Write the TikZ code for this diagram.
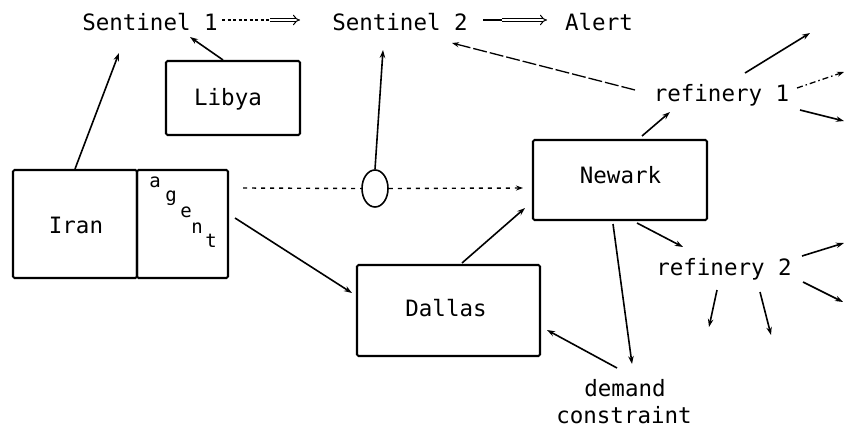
\documentclass[tikz,border=0pt]{standalone}
\usepackage{fontspec}
\setmonofont{DejaVu Sans Mono}
\usetikzlibrary{arrows.meta,shapes.geometric}

\begin{document}
\begin{tikzpicture}[x=1pt,y=-1pt,
  lbl/.style={font=\ttfamily\fontsize{22.5}{26}\selectfont, inner sep=0pt, anchor=base},
  small/.style={font=\ttfamily\fontsize{19}{22}\selectfont, inner sep=0pt, anchor=base},
  boxnode/.style={draw, line width=2.1pt, rounded corners=1.5pt, inner sep=0pt},
  arr/.style={line width=1.6pt, -{Stealth[length=8pt,width=5.5pt]}},
  dotline/.style={line width=1.4pt, dash pattern=on 3pt off 2.5pt},
  dbl/.style={double, double distance=2.6pt, line width=1pt, -{Implies[length=5pt]}},
]
\useasboundingbox (0,0) rectangle (845,433);

% --- labels along the top ---
\node[lbl] (s1) at (150,31) {Sentinel 1};
\node[lbl] (s2) at (400,31) {Sentinel 2};
\node[lbl] (alert) at (599,31) {Alert};

% --- boxes ---
\node[boxnode, minimum width=134pt, minimum height=74pt] (libya) at (233,98) {};
\node[lbl] (libyatxt) at (228,106) {Libya};

\node[boxnode, minimum width=124pt, minimum height=108pt] (iran) at (75,224) {};
\node[lbl] (irantxt) at (76,233) {Iran};
\node[boxnode, minimum width=91pt, minimum height=108pt] (agent) at (182.5,224) {};
\node[small] (ag1) at (155,187) {a};
\node[small] (ag2) at (171,201) {g};
\node[small] (ag3) at (186,217) {e};
\node[small] (ag4) at (197,233) {n};
\node[small] (ag5) at (211,247) {t};

\node[boxnode, minimum width=174pt, minimum height=80pt] (newark) at (620,180) {};
\node[lbl] (newarktxt) at (620.5,183) {Newark};

\node[boxnode, minimum width=183pt, minimum height=91pt] (dallas) at (448.5,310.5) {};
\node[lbl] (dallastxt) at (446,316) {Dallas};

\node[draw, ellipse, line width=1.6pt, minimum width=26pt, minimum height=37pt, inner sep=0pt] (tap) at (375,188.5) {};

\node[lbl] (ref1) at (721.5,102) {refinery 1};
\node[lbl] (ref2) at (724,275) {refinery 2};
\node[lbl] (demand) at (625,396) {demand};
\node[lbl] (constraint) at (624,423) {constraint};

% --- connector end points ---
\coordinate (s1in) at (119,53);
\coordinate (s1lib) at (190,37);
\coordinate (s1out) at (222,20);
\coordinate (s1mid) at (270,20);
\coordinate (s2in) at (300,20);
\coordinate (s2tap) at (383,50);
\coordinate (s2out) at (483,20);
\coordinate (s2mid) at (502,20);
\coordinate (alertin) at (547,20);
\coordinate (s2ref) at (452,43);
\coordinate (agentout) at (235,218);
\coordinate (dallasin) at (352,293);
\coordinate (wireA) at (243,188);
\coordinate (newarkin) at (523,188);
\coordinate (dallasout) at (462,263);
\coordinate (newarkin2) at (525,208);
\coordinate (newarkup) at (642,136);
\coordinate (ref1in) at (670,112);
\coordinate (ref1w) at (635,90);
\coordinate (r1a) at (745,73);
\coordinate (r1ae) at (810,33);
\coordinate (r1b) at (797,88);
\coordinate (r1be) at (844,72);
\coordinate (r1c) at (800,110);
\coordinate (r1ce) at (844,121);
\coordinate (newarkdn) at (637,223);
\coordinate (ref2in) at (683,247);
\coordinate (r2a) at (802,256);
\coordinate (r2ae) at (844,243);
\coordinate (r2b) at (803,282);
\coordinate (r2be) at (843,302);
\coordinate (r2c) at (717,290);
\coordinate (r2ce) at (709,327);
\coordinate (r2d) at (760,292);
\coordinate (r2de) at (771,335);
\coordinate (newarkdc) at (613,224);
\coordinate (demandin) at (632,364);
\coordinate (demandout) at (617,368);
\coordinate (dallasin2) at (547,330);

% --- connectors ---
\draw[arr] (iran.north) -- (s1in);
\draw[arr] ([xshift=-10pt]libya.north) -- (s1lib);
\draw[dotline] (s1out) -- (s1mid);
\draw[dbl] (s1mid) -- (s2in);
\draw[line width=1.4pt] (s2out) -- (s2mid);
\draw[dbl] (s2mid) -- (alertin);
\draw[arr] (tap.north) -- (s2tap);
\draw[arr] (agentout) -- (dallasin);
\draw[line width=1.4pt, dash pattern=on 4pt off 5pt] (wireA) -- (tap.west);
\draw[line width=1.4pt, dash pattern=on 4pt off 5pt, -{Stealth[length=7pt,width=5pt]}] (tap.east) -- (newarkin);
\draw[arr] (dallasout) -- (newarkin2);
\draw[arr] (newarkup) -- (ref1in);
\draw[line width=1.3pt, dash pattern=on 14pt off 3pt, -{Stealth[length=7pt,width=5pt]}] (ref1w) -- (s2ref);
\draw[arr] (r1a) -- (r1ae);
\draw[line width=1.3pt, dash pattern=on 6pt off 3pt on 1.5pt off 3pt, -{Stealth[length=7pt,width=5pt]}] (r1b) -- (r1be);
\draw[arr] (r1c) -- (r1ce);
\draw[arr] (newarkdn) -- (ref2in);
\draw[arr] (r2a) -- (r2ae);
\draw[arr] (r2b) -- (r2be);
\draw[arr] (r2c) -- (r2ce);
\draw[arr] (r2d) -- (r2de);
\draw[arr] (newarkdc) -- (demandin);
\draw[arr] (demandout) -- (dallasin2);
\end{tikzpicture}
\end{document}
